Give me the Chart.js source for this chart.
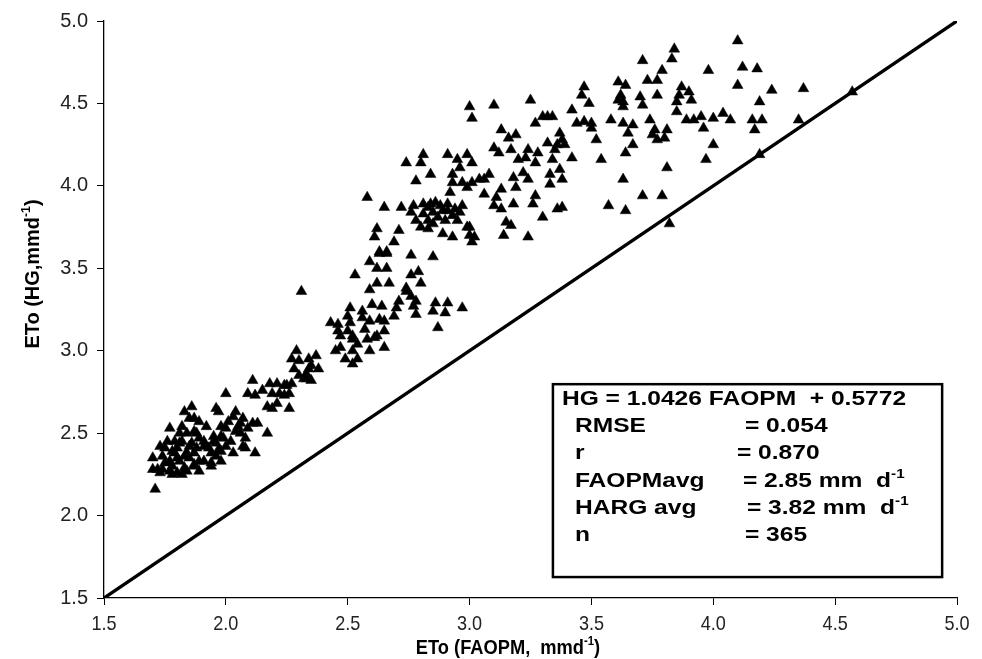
<!DOCTYPE html>
<html><head><meta charset="utf-8">
<script src="https://cdn.jsdelivr.net/npm/chart.js@4.4.1/dist/chart.umd.min.js"></script>
<style>html,body{margin:0;padding:0;background:#fff;}#wrap{width:982px;height:659px;}</style>
</head><body><div id="wrap"><canvas id="c" width="982" height="659"></canvas></div>
<script>
// ETo by FAO Penman-Monteith (x) vs Hargreaves (y), mm/d
const faopm = [
1.85,1.87,1.97,2.03,2.06,2.11,1.81,1.84,1.87,1.92,1.98,2.00,1.89,1.95,1.99,2.06,2.17,2.07,2.12,1.75,
1.81,1.85,1.91,1.96,2.00,1.70,1.74,1.79,1.83,1.87,1.94,1.70,1.74,1.78,1.80,1.83,1.87,1.89,1.81,1.77,
1.71,2.00,1.86,1.96,
2.31,2.53,2.59,2.63,2.66,2.62,2.66,2.62,2.59,2.67,2.74,2.71,2.70,2.69,2.60,2.64,2.56,2.56,2.59,2.65,
2.51,2.50,2.51,2.43,2.46,2.46,2.50,2.52,2.52,2.58,2.61,2.62,2.65,2.65,2.59,2.47,2.45,2.52,2.54,2.52,
2.49,2.29,2.27,2.28,2.34,2.37,2.38,2.34,2.33,2.35,2.11,2.12,2.18,2.21,2.24,2.27,2.19,2.22,2.26,2.21,
2.32,2.33,2.19,2.26,
2.58,2.65,2.74,2.81,2.80,2.78,2.84,2.91,2.95,2.99,3.01,2.96,2.93,2.93,2.92,2.97,3.01,3.04,2.99,
2.77,2.76,2.81,2.84,2.88,2.91,2.97,2.94,2.91,2.85,2.81,2.78,2.83,2.87,2.90,2.95,2.99,3.00,3.01,2.89,2.93,2.83,
2.62,2.61,2.71,2.69,2.63,2.66,2.76,2.85,2.76,2.79,2.80,2.76,
2.77,2.78,2.86,2.91,2.90,2.85,2.97,2.87,
3.00,3.01,
3.10,3.25,3.42,3.47,3.46,3.49,3.61,3.64,3.62,3.61,3.63,3.63,3.27,3.30,3.32,3.34,3.44,3.47,3.50,3.50,3.58,3.63,3.67,3.65,
3.13,3.16,3.19,3.10,3.12,3.17,3.20,3.24,3.28,3.23,3.27,
3.32,3.37,3.38,3.36,3.39,3.35,3.42,3.34,3.52,3.54,3.67,3.64,
3.08,3.06,3.18,3.22,3.24,3.33,3.37,3.38,3.33,3.19,3.13,3.06,3.11,3.10,3.13,3.18,3.27,3.26,3.15,3.17,3.14,3.24,3.30,3.36,3.38,3.57,3.64,3.63,
4.10,3.84,3.83,3.71,3.79,3.73,3.77,3.98,4.12,4.18,4.10,4.24,4.37,3.77,3.87,3.86,3.90,3.91,3.85,3.70,3.71,
3.85,3.89,3.92,3.95,4.00,4.04,4.07,3.96,3.74,3.76,3.81,3.75,3.77,3.80,4.19,4.16,4.20,4.17,4.35,4.00,3.97,3.81,4.19,3.71,3.79,3.82,
4.57,
1.73,1.76,1.78,1.80,1.82,1.84,1.86,1.88,1.91,1.93,1.95,1.97,1.98,2.02,2.04,2.05,2.08,2.01,1.89,1.82,
1.79,1.75,1.77,1.82,1.84,1.87,1.89,1.91,1.94,1.80,1.78,1.73,1.72,1.85,1.96,1.98,2.09,1.83,1.88,1.77,
2.72,2.83,2.89,2.86,2.93,2.96,2.85,2.80,3.00,3.02,2.74,2.78,2.63,2.57,2.54,2.47,2.30,2.25,2.15,2.09,
2.30,2.35,2.24,2.17,2.07,2.04,2.13,2.08,2.03,1.98,1.94
];
const hgEto = [
2.59,2.59,2.63,2.60,2.56,2.56,2.50,2.50,2.51,2.54,2.54,2.53,2.47,2.48,2.47,2.50,2.50,2.42,2.38,2.41,
2.44,2.42,2.42,2.44,2.42,2.35,2.36,2.38,2.36,2.38,2.38,2.28,2.28,2.30,2.26,2.29,2.31,2.33,2.33,2.33,
2.16,2.74,2.66,2.65,
3.36,3.46,3.54,3.59,3.59,3.50,3.50,3.41,3.37,3.41,3.38,3.30,3.26,3.21,3.28,3.27,3.24,3.20,3.18,3.18,
3.26,3.21,3.17,3.17,3.16,3.12,3.12,3.09,3.07,3.07,3.08,3.09,3.12,3.02,3.00,3.02,3.00,3.00,2.95,2.92,
2.95,3.00,2.95,2.89,2.95,2.97,2.89,2.89,2.83,2.82,2.82,2.73,2.80,2.80,2.79,2.80,2.74,2.74,2.74,2.68,
2.83,2.86,2.65,2.65,
3.93,3.87,4.14,4.19,4.14,4.03,4.07,4.19,4.16,4.19,4.14,4.11,4.07,4.02,3.96,4.02,4.02,4.04,3.99,
3.88,3.84,3.89,3.89,3.88,3.89,3.88,3.86,3.85,3.84,3.83,3.79,3.79,3.81,3.79,3.79,3.75,3.70,3.66,3.71,3.69,3.74,
3.74,3.69,3.73,3.66,3.60,3.60,3.58,3.57,3.46,3.48,3.41,3.33,
3.27,3.22,3.29,3.29,3.23,3.24,3.26,3.14,
4.48,4.41,
4.49,4.52,4.46,4.60,4.55,4.50,4.63,4.61,4.55,4.52,4.51,4.48,4.38,4.42,4.42,4.42,4.38,4.39,4.38,4.35,4.40,4.38,4.37,4.32,
4.34,4.29,4.31,4.23,4.20,4.22,4.16,4.22,4.20,4.17,4.14,
4.26,4.32,4.28,4.25,4.25,4.22,4.17,4.16,4.28,4.16,4.25,4.20,
4.07,4.04,4.05,4.08,4.04,4.07,4.10,4.04,4.01,3.99,3.98,3.95,3.93,3.88,3.86,3.89,3.94,3.89,3.78,3.76,3.70,3.69,3.81,3.86,3.87,3.88,3.85,4.04,
4.88,4.83,4.77,4.76,4.70,4.64,4.64,4.70,4.72,4.71,4.61,4.58,4.59,4.55,4.60,4.55,4.57,4.52,4.51,4.54,4.49,
4.45,4.40,4.40,4.42,4.41,4.44,4.40,4.35,4.40,4.34,4.34,4.31,4.28,4.29,4.51,4.40,4.40,4.34,4.40,4.25,4.16,4.11,4.19,3.94,3.94,3.77,
4.57,
2.42,2.45,2.39,2.41,2.45,2.38,2.44,2.41,2.45,2.41,2.45,2.40,2.48,2.45,2.51,2.54,2.47,2.57,2.57,2.54,
2.45,2.32,2.27,2.25,2.27,2.30,2.27,2.33,2.32,2.35,2.25,2.26,2.28,2.35,2.36,2.39,2.53,2.63,2.50,2.53,
3.87,3.87,3.85,3.90,3.82,3.84,3.77,3.75,3.75,3.69,3.36,3.30,3.19,3.13,3.04,3.09,2.94,2.79,2.76,2.74,
2.85,2.91,2.73,2.66,2.59,2.63,2.56,2.41,2.38,2.33,2.30
];
const oneToOneX = [1.5, 5.0];
const oneToOneY = [1.5, 5.0];
const axisMin = 1.5, axisMax = 5.0, axisStep = 0.5;
const xTickValues = [1.5, 2.0, 2.5, 3.0, 3.5, 4.0, 4.5, 5.0];
const xTitle = [{t:'ETo (FAOPM,  mmd'},{t:'-1',sup:true},{t:')'}];
const yTitle = [{t:'ETo (HG,mmd'},{t:'-1',sup:true},{t:')'}];
const equationText = 'HG = 1.0426 FAOPM  + 0.5772';
const statLabels = ['RMSE','r','FAOPMavg','HARG avg','n'];
const statValues = [
  [{t:'= 0.054'}],
  [{t:'= 0.870'}],
  [{t:'= 2.85 mm  d'},{t:'-1',sup:true}],
  [{t:'= 3.82 mm  d'},{t:'-1',sup:true}],
  [{t:'= 365'}]
];

const points = faopm.map((x,i)=>({x:x, y:hgEto[i]}));
const linePts = oneToOneX.map((x,i)=>({x:x, y:oneToOneY[i]}));

function richWidth(ctx, parts, size, family, weight){
  let w=0;
  for(const p of parts){
    ctx.font = weight+' '+(p.sup?Math.round(size*0.62):size)+'px '+family;
    w += ctx.measureText(p.t).width;
  }
  return w;
}
// draws text runs (with superscripts) starting at x, horizontally scaled by sx
function drawRich(ctx, parts, x, y, size, family, weight, sx){
  ctx.save();
  ctx.translate(x, y);
  ctx.scale(sx, 1);
  let cx=0;
  ctx.textBaseline='alphabetic';
  ctx.textAlign='left';
  for(const p of parts){
    const s = p.sup?Math.round(size*0.62):size;
    ctx.font = weight+' '+s+'px '+family;
    ctx.fillText(p.t, cx, p.sup? -size*0.42 : 0);
    cx += ctx.measureText(p.t).width;
  }
  ctx.restore();
}

const SANS = '"Liberation Sans", Arial, sans-serif';

const overlay = {
  id:'overlay',
  afterDraw(chart){
    const ctx = chart.ctx, xs = chart.scales.x, ys = chart.scales.y, ca = chart.chartArea;
    ctx.save();
    ctx.fillStyle='#000';
    // x tick labels (condensed)
    const xsz = 21, xsx = 0.86;
    ctx.fillStyle='#222';
    for(const v of xTickValues){
      const lbl = v.toFixed(1);
      ctx.font = xsz+'px '+SANS;
      const w = ctx.measureText(lbl).width*xsx;
      drawRich(ctx, [{t:lbl}], xs.getPixelForValue(v) - w/2, ca.bottom + 32, xsz, SANS, 'normal', xsx);
    }
    ctx.fillStyle='#000';
    // axis titles
    const tsz = 21, tsx = 0.87;
    const wx = richWidth(ctx, xTitle, tsz, SANS, 'bold')*tsx;
    drawRich(ctx, xTitle, 508 - wx/2, 654, tsz, SANS, 'bold', tsx);
    ctx.save();
    ctx.translate(39, 274);
    ctx.rotate(-Math.PI/2);
    const wy = richWidth(ctx, yTitle, tsz, SANS, 'bold')*0.95;
    drawRich(ctx, yTitle, -wy/2, 0, tsz, SANS, 'bold', 0.95);
    ctx.restore();
    // statistics box
    const L = xs.getPixelForValue(3.342), R = xs.getPixelForValue(4.939);
    const T = ys.getPixelForValue(2.797), B = ys.getPixelForValue(1.627);
    ctx.fillStyle='#fff';
    ctx.fillRect(L,T,R-L,B-T);
    ctx.strokeStyle='#000'; ctx.lineWidth=2.5;
    ctx.strokeRect(L,T,R-L,B-T);
    ctx.fillStyle='#000';
    const fs = 21, bsx = 1.17;
    drawRich(ctx, [{t:equationText}], L+9, T+21, fs, SANS, 'bold', bsx);
    const valX = [L+192, L+184, L+190, L+194, L+192];
    for(let i=0;i<statLabels.length;i++){
      const yy = T + 48 + i*27.2;
      drawRich(ctx, [{t:statLabels[i]}], L+22, yy, fs, SANS, 'bold', bsx);
      drawRich(ctx, statValues[i], valX[i], yy, fs, SANS, 'bold', bsx);
    }
    ctx.restore();
  }
};

new Chart(document.getElementById('c'), {
  type:'scatter',
  data:{datasets:[
    {label:'HG vs FAOPM', data:points, pointStyle:'triangle', pointRadius:6.2, pointHoverRadius:6.2,
     backgroundColor:'#000', borderColor:'#000', borderWidth:0.5, order:2},
    {label:'1:1', type:'line', data:linePts, borderColor:'#000', borderWidth:3.4, pointRadius:0, showLine:true, fill:false, order:1}
  ]},
  options:{
    responsive:false, animation:false, devicePixelRatio:1,
    layout:{padding:{left:0,right:25,top:18,bottom:0}},
    plugins:{legend:{display:false}, tooltip:{enabled:false}},
    scales:{
      x:{type:'linear', min:axisMin, max:axisMax,
         ticks:{stepSize:axisStep, display:false},
         grid:{drawOnChartArea:false, drawTicks:true, tickLength:7, color:'#000', lineWidth:1},
         border:{display:true, color:'#000', width:1.3},
         afterFit(s){ s.height = 61; }},
      y:{type:'linear', min:axisMin, max:axisMax,
         ticks:{stepSize:axisStep, callback:v=>v.toFixed(1), color:'#222', padding:9,
                font:{family:SANS, size:20}},
         grid:{drawOnChartArea:false, drawTicks:true, tickLength:7, color:'#000', lineWidth:1},
         border:{display:true, color:'#000', width:1.3},
         afterFit(s){ s.width = 104; }}
    }
  },
  plugins:[overlay]
});
</script></body></html>
